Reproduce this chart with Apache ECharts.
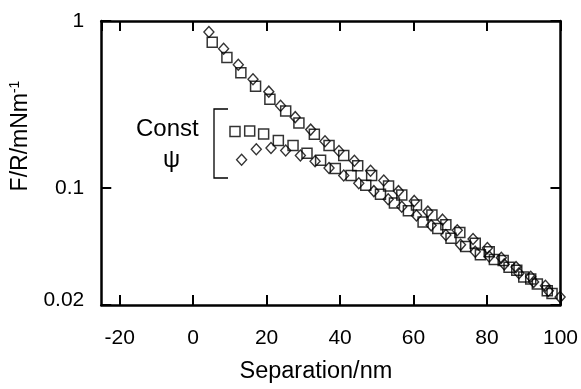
<!DOCTYPE html>
<html><head><meta charset="utf-8">
<script src="https://cdn.jsdelivr.net/npm/echarts@6/dist/echarts.min.js"></script>
<style>html,body{margin:0;padding:0;background:#fff}#c{width:581px;height:389px}</style>
</head><body><div id="c"></div>
<script>
// Approach branch, diamonds
const upperDiamondX = [4.3, 8.3, 12.3, 16.3, 20.6, 23.8, 27.8, 32.0, 35.9, 39.7, 43.9, 48.3, 51.9, 55.9, 60.2, 63.9, 67.9, 71.9, 76.2, 80.1, 83.9, 87.9, 91.9, 95.9, 99.9];
const upperDiamondF = [0.859, 0.683, 0.548, 0.448, 0.378, 0.311, 0.266, 0.224, 0.191, 0.167, 0.146, 0.127, 0.111, 0.0960, 0.0839, 0.0724, 0.0648, 0.0560, 0.0497, 0.0438, 0.0383, 0.0337, 0.0295, 0.0261, 0.0223];
// Approach branch, squares
const upperSquareX = [5.2, 9.2, 13.0, 17.0, 20.9, 25.2, 28.8, 33.0, 37.0, 41.0, 44.8, 48.6, 53.2, 56.8, 60.8, 65.0, 68.8, 72.6, 76.8, 80.6, 84.4, 88.1, 91.9, 96.4];
const upperSquareF = [0.746, 0.605, 0.490, 0.407, 0.340, 0.289, 0.245, 0.210, 0.180, 0.157, 0.136, 0.119, 0.103, 0.0910, 0.0792, 0.0692, 0.0605, 0.0543, 0.0469, 0.0417, 0.0369, 0.0323, 0.0286, 0.0243];
// Constant psi branch, diamonds
const lowerDiamondX = [13.2, 17.2, 21.2, 25.2, 29.2, 33.2, 37.0, 41.0, 45.1, 49.2, 53.1, 56.8, 60.8, 64.8, 68.8, 72.8, 76.8, 80.6, 84.7, 88.7, 92.7, 96.7];
const lowerDiamondF = [0.148, 0.171, 0.174, 0.168, 0.157, 0.145, 0.132, 0.119, 0.107, 0.0960, 0.0859, 0.0774, 0.0686, 0.0599, 0.0524, 0.0458, 0.0417, 0.0390, 0.0350, 0.0310, 0.0275, 0.0243];
// Constant psi branch, squares
const lowerSquareX = [11.4, 15.4, 19.2, 23.2, 27.2, 31.0, 34.7, 38.7, 43.0, 47.0, 51.0, 54.8, 58.6, 62.6, 66.6, 70.2, 74.2, 78.2, 82.0, 86.0, 90.0, 93.7, 97.7];
const lowerSquareF = [0.218, 0.220, 0.211, 0.193, 0.180, 0.162, 0.147, 0.131, 0.119, 0.104, 0.0919, 0.0814, 0.0733, 0.0627, 0.0573, 0.0501, 0.0448, 0.0400, 0.0374, 0.0336, 0.0294, 0.0267, 0.0234];

const xMin = -25, xMax = 100;
const yMin = 0.02, yMax = 1;
const yTickValues = [0.02, 0.1, 1];
const yTickLabels = ['0.02', '0.1', '1'];
const xTitle = 'Separation/nm';
const yTitle = 'F/R/mNm';
const yTitleSup = '-1';
const annotationWord = 'Const';
const annotationSymbol = 'ψ';

const FONT = '"Liberation Sans", Arial, Helvetica, sans-serif';
const zip = (xs, ys) => xs.map((x, i) => [x, ys[i]]);

const chart = echarts.init(document.getElementById('c'), null, {renderer: 'canvas'});

const axisLine = {show: true, onZero: false, lineStyle: {color: '#000', width: 2.5}};
const axisTick = {show: true, inside: true, length: 10, lineStyle: {color: '#000', width: 2}};

function yLabel(v) {
  let best = 0, bd = Infinity;
  yTickValues.forEach((t, i) => { const d = Math.abs(Math.log10(v) - Math.log10(t)); if (d < bd) { bd = d; best = i; } });
  if (bd > 0.02) return '';
  return best === 0 ? '{low|' + yTickLabels[0] + '}' : yTickLabels[best];
}

const squareStyle = {color: 'rgba(0,0,0,0)', borderColor: '#000', borderWidth: 1.5};
const diamondStyle = {color: 'rgba(0,0,0,0)', borderColor: '#000', borderWidth: 1.4};

chart.setOption({
  animation: false,
  backgroundColor: '#fff',
  grid: {left: 100, right: 13, top: 21, bottom: 79, containLabel: false},
  xAxis: [{
    type: 'value', min: xMin, max: xMax, splitNumber: 6, position: 'bottom',
    axisLine, axisTick, splitLine: {show: false},
    axisLabel: {show: true, showMinLabel: false, fontSize: 21, color: '#000', fontFamily: FONT, margin: 23},
    name: xTitle, nameLocation: 'middle', nameGap: 55,
    nameTextStyle: {fontSize: 23.5, color: '#000', fontFamily: FONT, padding: [0, 30, 0, 0]}
  }, {
    type: 'value', min: xMin, max: xMax, splitNumber: 6, position: 'top',
    axisLine, axisTick, splitLine: {show: false}, axisLabel: {show: false}
  }],
  yAxis: [{
    type: 'log', logBase: 10, min: yMin, max: yMax, position: 'left',
    axisLine, axisTick, splitLine: {show: false}, minorTick: {show: false},
    axisLabel: {show: true, fontSize: 21, color: '#000', fontFamily: FONT, margin: 17, formatter: yLabel,
      rich: {low: {fontSize: 21, color: '#000', fontFamily: FONT, padding: [0, 0, 10, 0]}}},
    name: '{a|' + yTitle + '}{s|' + yTitleSup + '}', nameLocation: 'middle', nameRotate: 90, nameGap: 62,
    nameTextStyle: {padding: [0, 0, 0, 54], rich: {
      a: {fontSize: 23, color: '#000', fontFamily: FONT, lineHeight: 26},
      s: {fontSize: 14, color: '#000', fontFamily: FONT, lineHeight: 14, verticalAlign: 'top'}
    }}
  }, {
    type: 'log', logBase: 10, min: yMin, max: yMax, position: 'right',
    axisLine, axisTick, splitLine: {show: false}, axisLabel: {show: false}
  }],
  series: [
    {type: 'scatter', name: 'sq-approach', data: zip(upperSquareX, upperSquareF), symbol: 'rect', symbolSize: 10, itemStyle: squareStyle, silent: true, z: 2},
    {type: 'scatter', name: 'sq-const', data: zip(lowerSquareX, lowerSquareF), symbol: 'rect', symbolSize: 10, itemStyle: squareStyle, silent: true, z: 2},
    {type: 'scatter', name: 'di-approach', data: zip(upperDiamondX, upperDiamondF), symbol: 'diamond', symbolSize: [10, 11], itemStyle: diamondStyle, silent: true, z: 3},
    {type: 'scatter', name: 'di-const', data: zip(lowerDiamondX, lowerDiamondF), symbol: 'diamond', symbolSize: [10, 11], itemStyle: diamondStyle, silent: true, z: 3}
  ],
  graphic: [
    {type: 'text', left: 136, top: 117, style: {text: annotationWord, font: '24px ' + FONT, fill: '#000'}},
    {type: 'text', left: 163, top: 148, style: {text: annotationSymbol, font: '24px ' + FONT, fill: '#000'}},
    {type: 'polyline', shape: {points: [[228, 109], [214, 109], [214, 178], [228, 178]]}, style: {stroke: '#000', lineWidth: 1.3, fill: null}}
  ]
});
</script>
</body></html>
